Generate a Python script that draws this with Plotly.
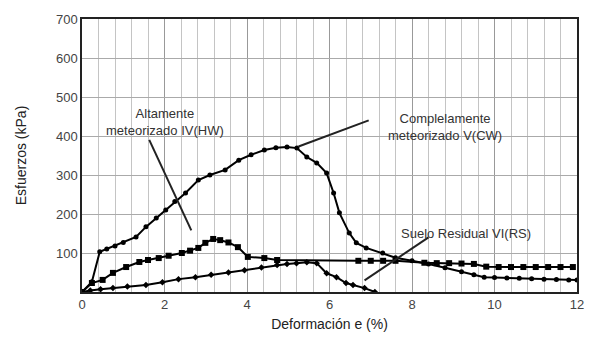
import plotly.graph_objects as go

# Completamente meteorizado V(CW)
cw_x = [0, 0.24, 0.43, 0.6, 0.8, 1.0, 1.31, 1.55, 1.8, 2.03, 2.25, 2.51, 2.82, 3.1, 3.47, 3.8, 4.1, 4.42, 4.7, 4.97, 5.21, 5.45, 5.69, 5.93, 6.10, 6.24, 6.48, 6.65, 6.89, 7.29, 7.6, 8.0, 8.4, 8.8, 9.2, 9.5, 9.75, 10.0, 10.3, 10.6, 10.9, 11.2, 11.5, 11.8, 12.0]
cw_y = [0, 26, 103, 110, 118, 127, 141, 167, 190, 210, 232, 254, 287, 300, 313, 338, 352, 364, 370, 372, 369, 346, 331, 305, 254, 203, 151, 126, 113, 100, 88, 80, 72, 62, 52, 44, 38, 37, 36, 35, 34, 33, 32, 31, 31]

# Altamente meteorizado IV(HW)
hw_x = [0, 0.24, 0.5, 0.75, 1.07, 1.39, 1.6, 1.86, 2.1, 2.42, 2.62, 2.82, 2.99, 3.18, 3.35, 3.55, 3.78, 4.02, 4.42, 4.73, 6.7, 7.0, 7.3, 7.6, 8.3, 8.6, 8.9, 9.2, 9.5, 9.8, 10.1, 10.4, 10.7, 11.0, 11.3, 11.6, 11.9]
hw_y = [0, 23, 31, 49, 64, 77, 82, 87, 93, 100, 106, 113, 126, 136, 133, 127, 115, 90, 87, 82, 80, 80, 80, 80, 75, 74, 74, 73, 72, 65, 64, 64, 64, 64, 64, 64, 64]

# Suelo Residual VI(RS)
rs_x = [0, 0.2, 0.45, 0.75, 1.1, 1.55, 1.95, 2.34, 2.75, 3.13, 3.55, 3.94, 4.35, 4.73, 4.97, 5.2, 5.45, 5.69, 5.93, 6.17, 6.4, 6.57, 6.85, 7.1]
rs_y = [0, 4, 7, 10, 14, 18, 25, 33, 38, 44, 50, 56, 63, 69, 72, 74, 76, 74, 48, 38, 23, 18, 10, 0]

x_ticks = [0, 2, 4, 6, 8, 10, 12]
y_ticks = [100, 200, 300, 400, 500, 600, 700]

fig = go.Figure()
line_style = dict(color="black", width=2)
fig.add_trace(go.Scatter(x=cw_x, y=cw_y, mode="lines+markers", line=line_style,
                         marker=dict(symbol="circle", size=5, color="black"), showlegend=False))
fig.add_trace(go.Scatter(x=hw_x, y=hw_y, mode="lines+markers", line=line_style,
                         marker=dict(symbol="square", size=6, color="black"), showlegend=False))
fig.add_trace(go.Scatter(x=rs_x, y=rs_y, mode="lines+markers", line=line_style,
                         marker=dict(symbol="diamond", size=5, color="black"), showlegend=False))

txt = dict(family="Liberation Sans, Arial, sans-serif", size=13, color="#333")
fig.add_annotation(x=2.0, y=437, text="Altamente<br>meteorizado IV(HW)", showarrow=False, font=txt,
                   xanchor="center", yanchor="middle")
fig.add_annotation(x=8.8, y=424, text="Complelamente<br>meteorizado V(CW)", showarrow=False, font=txt,
                   xanchor="center", yanchor="middle")
fig.add_annotation(x=9.3, y=150, text="Suelo Residual VI(RS)", showarrow=False, font=txt,
                   xanchor="center", yanchor="middle")

fig.update_layout(
    width=589, height=345,
    margin=dict(l=82, r=5, t=19, b=53),
    paper_bgcolor="white", plot_bgcolor="white",
    font=dict(family="Liberation Sans, Arial, sans-serif", size=13, color="#333"),
    shapes=[
        dict(type="line", xref="x", yref="y", x0=1.63, y0=390, x1=2.65, y1=158, line=dict(color="#222", width=2)),
        dict(type="line", xref="x", yref="y", x0=6.95, y0=440, x1=5.25, y1=373, line=dict(color="#222", width=2)),
        dict(type="line", xref="x", yref="y", x0=8.4, y0=140, x1=6.85, y1=30, line=dict(color="#222", width=2)),
    ],
)
fig.update_xaxes(range=[0, 12], tickmode="linear", tick0=x_ticks[0], dtick=x_ticks[1] - x_ticks[0],
                 ticks="", showgrid=True, gridcolor="#999", gridwidth=1,
                 minor=dict(tickmode="linear", tick0=0, dtick=0.4, showgrid=True, gridcolor="#c4c4c4", gridwidth=1),
                 showline=True, linecolor="#222", linewidth=1.5, mirror=True, zeroline=False,
                 ticklabeloverflow="allow",
                 title=dict(text="Deformación e (%)", standoff=8, font=dict(size=14, color="#222")),
                 tickfont=dict(size=13, color="#444"))
fig.update_yaxes(range=[0, 700], tickvals=y_ticks, ticks="", showgrid=True, gridcolor="#aaa", gridwidth=1,
                 showline=True, linecolor="#222", linewidth=1.5, mirror=True, zeroline=False,
                 title=dict(text="Esfuerzos (kPa)", standoff=26, font=dict(size=14, color="#222")),
                 tickfont=dict(size=13, color="#444"))
fig.write_html("out.html")
